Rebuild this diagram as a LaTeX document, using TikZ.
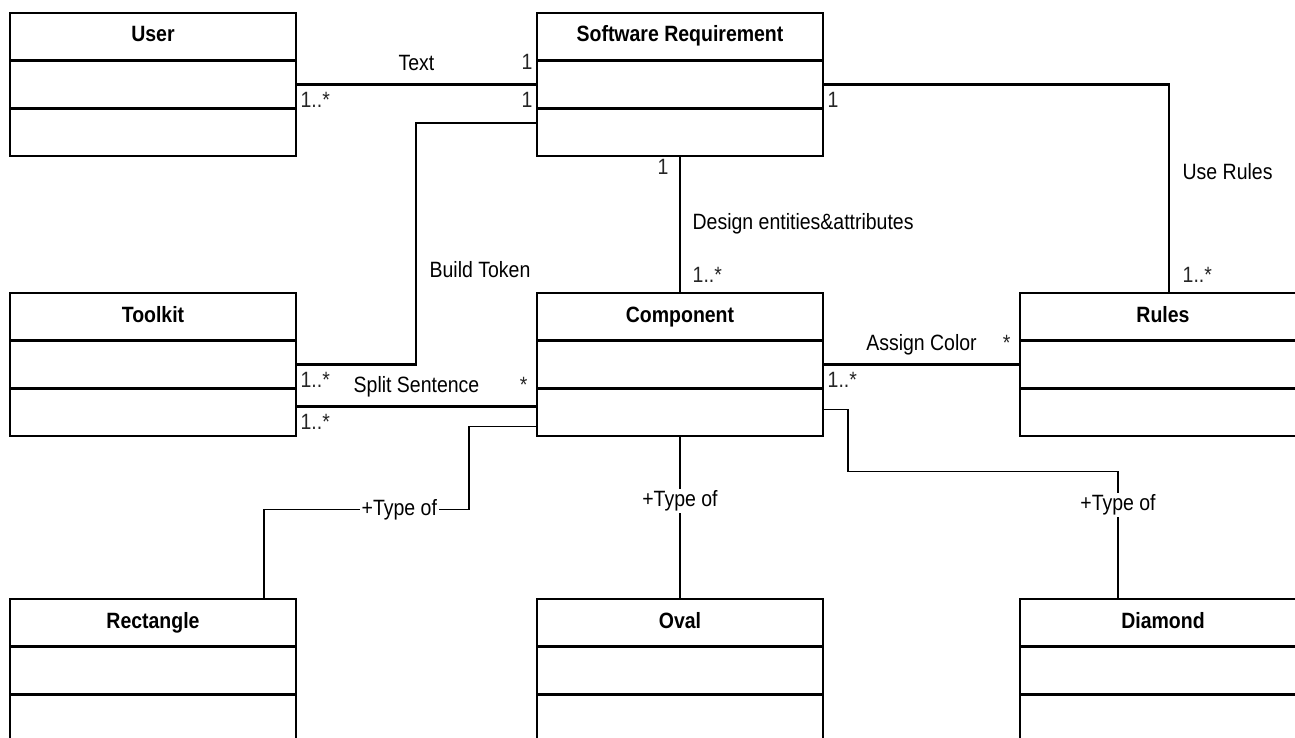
\documentclass[tikz,border=0pt]{standalone}
\usepackage{fontspec}
\setmainfont[FakeStretch=0.88]{Liberation Sans}
\usetikzlibrary{positioning}

\newcommand{\umlfont}{\fontsize{12.6pt}{15pt}\selectfont}

\begin{document}
\begin{tikzpicture}[
    umlclass/.style={draw, line width=1.5pt, inner sep=0pt, outer sep=0pt,
        minimum width=5.72cm, text height=0.58cm, text depth=2.28cm,
        font=\umlfont\bfseries,
        path picture={
            \draw[line width=1.5pt] ([yshift=-0.953cm]path picture bounding box.north west) -- ([yshift=-0.953cm]path picture bounding box.north east);
            \draw[line width=1.5pt] ([yshift=0.953cm]path picture bounding box.south west) -- ([yshift=0.953cm]path picture bounding box.south east);
        }},
    assoc/.style={line width=1.3pt},
    typeline/.style={line width=0.9pt},
    lbl/.style={font=\umlfont, inner sep=2pt},
    mult/.style={font=\umlfont, inner sep=2pt, text=black!85},
    typelbl/.style={font=\umlfont, fill=white, inner sep=1pt}
]
\path[use as bounding box] (0,0) rectangle (25.9,-14.76);
\clip (0,0) rectangle (25.9,-14.76);

% Classes
\node[umlclass] (user) at (3.06,-1.69) {User};
\node[umlclass, right=4.82cm of user] (req) {Software Requirement};
\node[umlclass, below=2.74cm of user] (toolkit) {Toolkit};
\node[umlclass, right=4.82cm of toolkit] (comp) {Component};
\node[umlclass, right=3.94cm of comp] (rules) {Rules};
\node[umlclass, below=3.26cm of toolkit] (rect) {Rectangle};
\node[umlclass, right=4.82cm of rect] (oval) {Oval};
\node[umlclass, right=3.94cm of oval] (diamond) {Diamond};

% Associations
\draw[assoc] (user.east) -- node[lbl, anchor=base, yshift=0.28cm] {Text}
    node[mult, pos=0, anchor=base west, yshift=-0.46cm] {1..*}
    node[mult, pos=1, anchor=base east, yshift=0.3cm] {1} (req.west);
\draw[assoc] ([yshift=-0.77cm]req.west)
    -- node[mult, pos=0, anchor=base east, yshift=0.3cm] {1} ++(-2.42cm,0)
    |- node[lbl, pos=0.32, anchor=base west, xshift=0.18cm] {Build Token}
    node[mult, pos=1, anchor=base west, yshift=-0.46cm] {1..*} (toolkit.east);
\draw[assoc] ([yshift=-0.84cm]toolkit.east) -- node[lbl, anchor=base, yshift=0.28cm] {Split Sentence}
    node[mult, pos=0, anchor=base west, yshift=-0.46cm] {1..*}
    node[mult, pos=1, anchor=base east, xshift=-0.1cm, yshift=0.28cm] {*} ([yshift=-0.84cm]comp.west);
\draw[assoc] (req.south) -- node[lbl, pos=0.54, anchor=base west, xshift=0.16cm] {Design entities\&attributes}
    node[mult, pos=0, anchor=base east, xshift=-0.14cm, yshift=-0.38cm] {1}
    node[mult, pos=1, anchor=base west, xshift=0.16cm, yshift=0.2cm] {1..*} (comp.north);
\draw[assoc] (req.east) -| node[lbl, pos=0.728, anchor=base west, xshift=0.18cm] {Use Rules}
    node[mult, pos=0, anchor=base west, yshift=-0.46cm] {1}
    node[mult, pos=1, anchor=base west, xshift=0.18cm, yshift=0.2cm] {1..*} ([xshift=0.12cm]rules.north);
\draw[assoc] (comp.east) -- node[lbl, anchor=base, yshift=0.28cm] {Assign Color}
    node[mult, pos=0, anchor=base west, yshift=-0.46cm] {1..*}
    node[mult, pos=1, anchor=base east, xshift=-0.1cm, yshift=0.28cm] {*} (rules.west);

% Generalisations
\draw[typeline] ([yshift=-1.24cm]comp.west) -- ++(-1.36cm,0) -- ++(0,-1.66cm)
    -| node[typelbl, pos=0.17] {+Type of} ([xshift=2.22cm]rect.north);
\draw[typeline] (comp.south) -- node[typelbl, pos=0.4] {+Type of} (oval.north);
\draw[typeline] ([yshift=-0.9cm]comp.east) -- ++(0.5cm,0) -- ++(0,-1.24cm)
    -| node[typelbl, pos=0.63] {+Type of} ([xshift=-0.9cm]diamond.north);

\end{tikzpicture}
\end{document}
